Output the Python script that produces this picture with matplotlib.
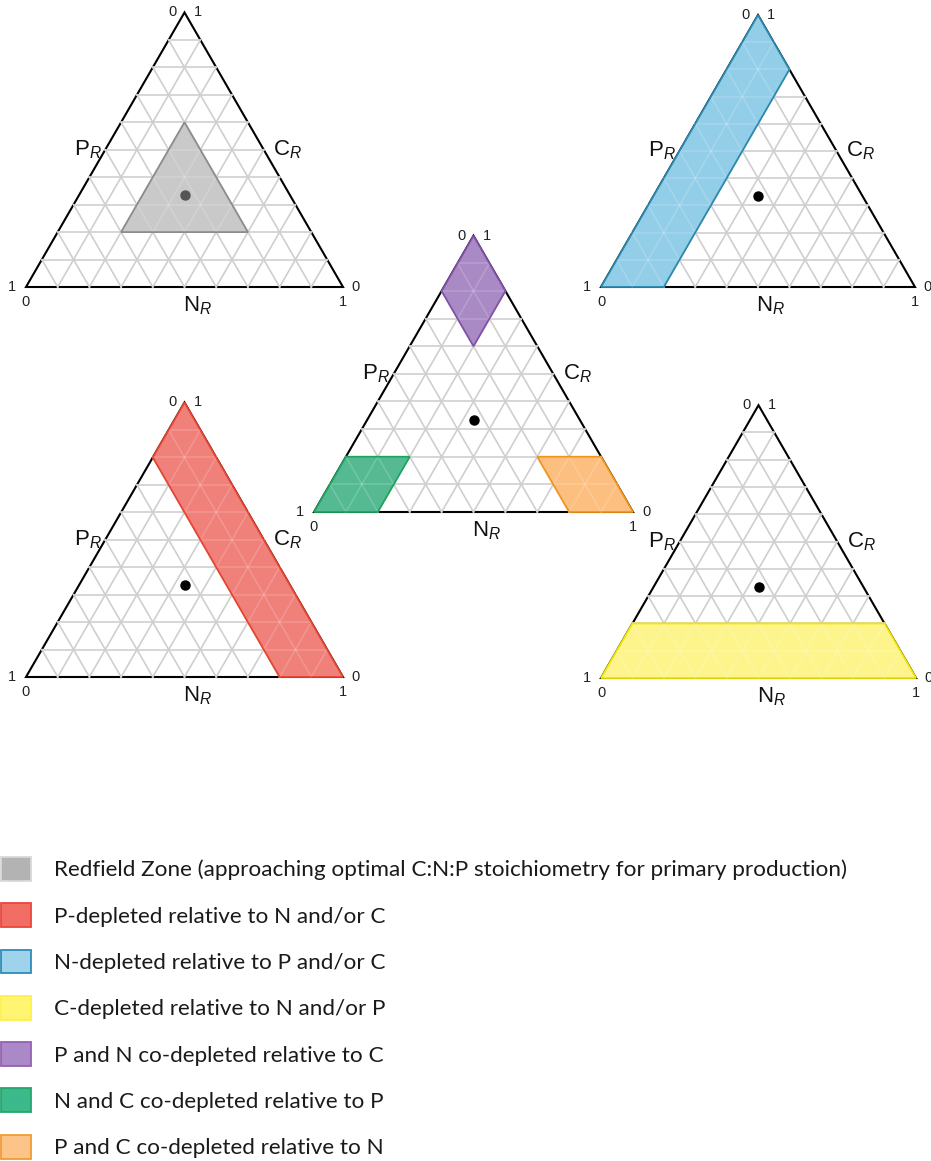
import numpy as np
import matplotlib

matplotlib.use("Agg")
import matplotlib.pyplot as plt
from matplotlib.patches import Patch, Polygon

plt.rcParams["font.family"] = ["Liberation Sans", "DejaVu Sans"]
plt.rcParams["mathtext.fontset"] = "custom"
plt.rcParams["mathtext.rm"] = "Liberation Sans"
plt.rcParams["mathtext.it"] = "Liberation Sans:italic"

# ternary compositions as (N_R, P_R, C_R) fractions
redfield_point = (0.333, 0.333, 0.334)
grid_levels = [0.1, 0.2, 0.3, 0.4, 0.5, 0.6, 0.7, 0.8, 0.9]

redfield_zone = [(0.2, 0.2, 0.6), (0.2, 0.6, 0.2), (0.6, 0.2, 0.2)]
p_depleted = [(0.0, 0.0, 1.0), (0.0, 0.2, 0.8), (0.8, 0.2, 0.0), (1.0, 0.0, 0.0)]
n_depleted = [(0.0, 1.0, 0.0), (0.2, 0.8, 0.0), (0.2, 0.0, 0.8), (0.0, 0.0, 1.0)]
c_depleted = [(0.0, 1.0, 0.0), (1.0, 0.0, 0.0), (0.8, 0.0, 0.2), (0.0, 0.8, 0.2)]
pn_codepleted = [(0.0, 0.0, 1.0), (0.0, 0.2, 0.8), (0.2, 0.2, 0.6), (0.2, 0.0, 0.8)]
nc_codepleted = [(0.0, 1.0, 0.0), (0.2, 0.8, 0.0), (0.2, 0.6, 0.2), (0.0, 0.8, 0.2)]
pc_codepleted = [(1.0, 0.0, 0.0), (0.8, 0.2, 0.0), (0.6, 0.2, 0.2), (0.8, 0.0, 0.2)]

legend_labels = [
    "Redfield Zone (approaching optimal C:N:P stoichiometry for primary production)",
    "P-depleted relative to N and/or C",
    "N-depleted relative to P and/or C",
    "C-depleted relative to N and/or P",
    "P and N co-depleted relative to C",
    "N and C co-depleted relative to P",
    "P and C co-depleted relative to N",
]
legend_fills = ["#b3b3b3", "#f26d63", "#9fd3ec", "#fff570", "#ab88c7", "#3bb98a", "#fdc48a"]
legend_edges = ["#d9d9d9", "#e8473b", "#2f8cb6", "#fff04a", "#9560b3", "#27a56d", "#f39a32"]

# region -> (fill, edge)
styles = {
    "redfield": ("#c9c9c9", "#8c8c8c"),
    "p": ("#f0807a", "#e8432f"),
    "n": ("#93cee8", "#2b88ae"),
    "c": ("#fdf48c", "#f2e600"),
    "pn": ("#a98ac4", "#8350a9"),
    "nc": ("#55ba92", "#1ca45f"),
    "pc": ("#fcbf80", "#f3951c"),
}

H = np.sqrt(3) / 2
FIG_W, FIG_H = 931, 1161


def to_xy(comp):
    n, p, c = comp
    return n + c / 2, c * H


def grid_segments():
    segs = []
    for v in grid_levels:
        segs.append([to_xy((0, 1 - v, v)), to_xy((1 - v, 0, v))])
        segs.append([to_xy((v, 1 - v, 0)), to_xy((v, 0, 1 - v))])
        segs.append([to_xy((0, v, 1 - v)), to_xy((1 - v, v, 0))])
    return segs


def add_region(ax, comp_list, key):
    fill, edge = styles[key]
    pts = [to_xy(c) for c in comp_list]
    poly = Polygon(pts, closed=True, facecolor=fill, edgecolor="none", zorder=3, clip_on=False)
    ax.add_patch(poly)
    # faint grid showing through the shaded region
    for line in grid_segments():
        xs, ys = zip(*line)
        (ln,) = ax.plot(xs, ys, color="white", alpha=0.18, lw=1.1, zorder=4)
        ln.set_clip_path(poly)
    ax.add_patch(Polygon(pts, closed=True, facecolor="none", edgecolor=edge,
                         lw=1.3, zorder=5, clip_on=False, joinstyle="miter"))


def draw_panel(fig, x0, ybase, width, regions, dot_color="black"):
    rect = [x0 / FIG_W, (FIG_H - ybase) / FIG_H, width / FIG_W, width * H / FIG_H]
    ax = fig.add_axes(rect)
    ax.set_xlim(0, 1)
    ax.set_ylim(0, H)
    ax.axis("off")

    corners = [to_xy((0, 1, 0)), to_xy((1, 0, 0)), to_xy((0, 0, 1))]
    ax.add_patch(Polygon(corners, closed=True, facecolor="none", edgecolor="black",
                         lw=1.5, zorder=1, clip_on=False))
    for line in grid_segments():
        xs, ys = zip(*line)
        ax.plot(xs, ys, color="#cfcfcf", lw=1.2, zorder=2, clip_on=False)

    for comp_list, key in regions:
        add_region(ax, comp_list, key)

    rx, ry = to_xy(redfield_point)
    ax.plot(rx, ry, "o", color=dot_color, ms=6.5, zorder=6, clip_on=False)

    tick_kw = dict(fontsize=10.5, ha="center", va="center", color="#222222")
    ax.text(0.5 - 0.039, H, "0", **tick_kw)
    ax.text(0.5 + 0.042, H, "1", **tick_kw)
    ax.text(-0.045, 0.0, "1", **tick_kw)
    ax.text(0.0, -0.048, "0", **tick_kw)
    ax.text(1.041, 0.0, "0", **tick_kw)
    ax.text(1.0, -0.048, "1", **tick_kw)

    lab_kw = dict(fontsize=16, color="#111111")
    ax.text(0.25 - 0.012, H / 2, r"$\mathrm{P}_{\mathit{R}}$", ha="right", va="center", **lab_kw)
    ax.text(0.75 + 0.03, H / 2, r"$\mathrm{C}_{\mathit{R}}$", ha="left", va="center", **lab_kw)
    ax.text(0.495, -0.024, r"$\mathrm{N}_{\mathit{R}}$", ha="left", va="top", **lab_kw)
    return ax


fig = plt.figure(figsize=(FIG_W / 100, FIG_H / 100), dpi=100)

draw_panel(fig, 26, 287, 317, [(redfield_zone, "redfield")], dot_color="#555555")
draw_panel(fig, 601, 287, 314, [(n_depleted, "n")])
draw_panel(fig, 314, 512, 319, [(pn_codepleted, "pn"), (nc_codepleted, "nc"), (pc_codepleted, "pc")])
draw_panel(fig, 26, 677, 317, [(p_depleted, "p")])
draw_panel(fig, 601, 678, 315, [(c_depleted, "c")])

handles = [Patch(facecolor=f, edgecolor=e, lw=1.3) for f, e in zip(legend_fills, legend_edges)]
fig.legend(
    handles,
    legend_labels,
    loc="upper left",
    bbox_to_anchor=(1 / FIG_W, 1 - 857 / FIG_H),
    frameon=False,
    prop={"family": ["Lato", "DejaVu Sans"], "size": 16.2},
    labelcolor="#1a1a1a",
    handlelength=1.35,
    handleheight=1.25,
    handletextpad=1.0,
    labelspacing=1.0,
    borderpad=0,
    borderaxespad=0,
)

fig.savefig("out.png", dpi=100)
